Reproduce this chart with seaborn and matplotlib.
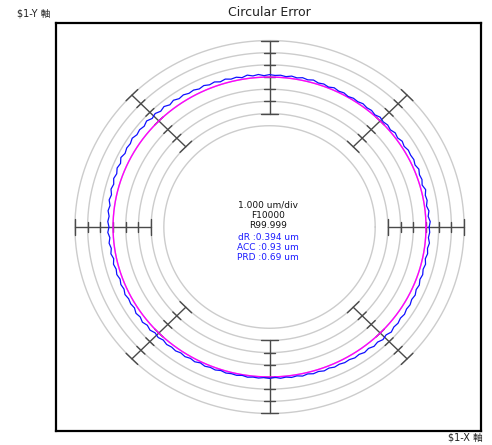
import numpy as np
import matplotlib
matplotlib.use("Agg")
import matplotlib.pyplot as plt
import seaborn as sns

# ---- data ----
title = "Circular Error"
y_axis_label = "$1-Y 軸"
x_axis_label = "$1-X 軸"
info_black = ["1.000 um/div", "F10000", "R99.999"]
info_blue = ["dR :0.394 um", "ACC :0.93 um", "PRD :0.69 um"]
ref_radius_div = 12.32          # reference circle radius in divisions
grid_offsets = [-4, -3, -2, -1, 0, 1, 2, 3]   # grey circles (div)
tick_offsets = [-3, -2, -1, 0, 1, 2, 3]
axis_angles_deg = [0, 45, 90, 135, 180, 225, 270, 315]
trace_angles_deg = list(range(0, 360, 2))
trace_dev_um = [
    0.25, 0.34, 0.20, 0.30, 0.16, 0.28, 0.22, 0.35, 0.18, 0.30, 0.24, 0.36, 0.22, 0.32, 0.26,
    0.30, 0.18, 0.28, 0.14, 0.24, 0.10, 0.20, 0.12, 0.22, 0.08, 0.18, 0.12, 0.20, 0.10, 0.15,
    0.06, 0.16, 0.10, 0.20, 0.08, 0.18, 0.12, 0.24, 0.14, 0.22, 0.12, 0.20, 0.10, 0.18, 0.14,
    0.20, 0.12, 0.24, 0.16, 0.28, 0.14, 0.26, 0.20, 0.32, 0.22, 0.36, 0.28, 0.40, 0.30, 0.42,
    0.36, 0.48, 0.40, 0.55, 0.42, 0.60, 0.48, 0.64, 0.52, 0.70, 0.56, 0.66, 0.58, 0.72, 0.60,
    0.66, 0.56, 0.70, 0.52, 0.62, 0.48, 0.58, 0.44, 0.54, 0.40, 0.50, 0.36, 0.46, 0.34, 0.42,
    0.32, 0.42, 0.28, 0.38, 0.26, 0.36, 0.22, 0.34, 0.24, 0.32, 0.20, 0.30, 0.22, 0.34, 0.24,
    0.30, 0.22, 0.36, 0.26, 0.38, 0.24, 0.34, 0.20, 0.30, 0.18, 0.28, 0.20, 0.26, 0.16, 0.24,
    0.14, 0.22, 0.10, 0.20, 0.12, 0.18, 0.08, 0.16, 0.10, 0.14, 0.06, 0.14, 0.08, 0.12, 0.06,
    0.12, 0.04, 0.14, 0.08, 0.16, 0.10, 0.20, 0.12, 0.22, 0.16, 0.26, 0.18, 0.28, 0.22, 0.30,
    0.26, 0.36, 0.30, 0.42, 0.34, 0.48, 0.40, 0.54, 0.44, 0.58, 0.46, 0.52, 0.42, 0.50, 0.40,
    0.46, 0.36, 0.44, 0.32, 0.40, 0.28, 0.36, 0.26, 0.34, 0.22, 0.32, 0.24, 0.34, 0.22, 0.30,
]

sns.set_style("white")
plt.rcParams['font.family'] = ['DejaVu Sans', 'Noto Sans CJK JP']

W, H = 492, 445
fig = plt.figure(figsize=(W / 100, H / 100), dpi=100)
ax = fig.add_axes([56 / W, 14 / H, 425 / W, 408 / H])
ax.set_xlim(-16.81, 16.65)
ax.set_ylim(-16.76, 16.76)
ax.set_xticks([])
ax.set_yticks([])
for s in ax.spines.values():
    s.set_color("black")
    s.set_linewidth(1.6)

t = np.linspace(0, 2 * np.pi, 721)
R = ref_radius_div
for k in grid_offsets:
    ax.plot((R + k) * np.cos(t), (R + k) * np.sin(t), color="#cccccc", lw=1.0, zorder=1)

# tick axes
for a in axis_angles_deg:
    th = np.deg2rad(a)
    c, s_ = np.cos(th), np.sin(th)
    r0, r1 = R + tick_offsets[0], R + tick_offsets[-1]
    ax.plot([r0 * c, r1 * c], [r0 * s_, r1 * s_], color="#4a4a4a", lw=1.0, zorder=2)
    for k in tick_offsets:
        hl = 0.65 if k in (tick_offsets[0], tick_offsets[-1]) else 0.45
        r = R + k
        px, py = r * c, r * s_
        ax.plot([px - hl * s_, px + hl * s_], [py + hl * c, py - hl * c],
                color="#4a4a4a", lw=1.0, zorder=2)

# reference circle
ax.plot(R * np.cos(t), R * np.sin(t), color="#ff00ff", lw=1.0, zorder=3)

# measured trace
ang = np.deg2rad(np.array(trace_angles_deg + [trace_angles_deg[0] + 360]))
dev = np.array(trace_dev_um + [trace_dev_um[0]])
rr = R + dev
sns.lineplot(x=rr * np.cos(ang), y=rr * np.sin(ang), sort=False, estimator=None,
             color="#1010ff", lw=0.9, ax=ax, zorder=4)

# texts
fig.text(269 / W, 1 - 12 / H, title, ha="center", va="center", fontsize=9, color="#222222")
fig.text(17 / W, 1 - 14 / H, y_axis_label, ha="left", va="center", fontsize=7, color="#222222")
fig.text(483 / W, 1 - 438 / H, x_axis_label, ha="right", va="center", fontsize=7, color="#222222")
ys = [205, 215, 225, 237, 247, 258]
for i, line in enumerate(info_black + info_blue):
    fig.text(268 / W, 1 - ys[i] / H, line, ha="center", va="center", fontsize=6.5,
             color="#111111" if i < 3 else "#1a1aff")

fig.savefig("out.png", dpi=100)
